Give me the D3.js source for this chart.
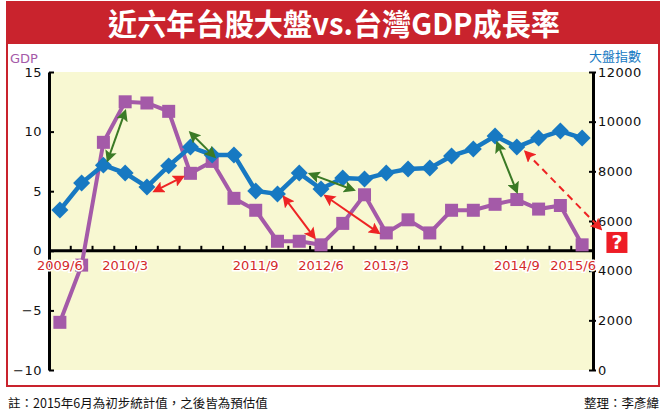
<!DOCTYPE html>
<html lang="zh-Hant">
<head>
<meta charset="UTF-8">
<title>近六年台股大盤vs.台灣GDP成長率</title>
<script src="https://d3js.org/d3.v7.min.js"></script>
<style>
    body { margin: 0; background: #fff; }
    svg text { font-family: "DejaVu Sans", sans-serif; }
    .cjk { font-family: "Noto Sans CJK TC", sans-serif; }
</style>
</head>
<body>
<div id="chart"></div>
<script>
// quarters on the x axis
const quarters = ["2009/6","2009/9","2009/12","2010/3","2010/6","2010/9","2010/12",
    "2011/3","2011/6","2011/9","2011/12","2012/3","2012/6","2012/9","2012/12",
    "2013/3","2013/6","2013/9","2013/12","2014/3","2014/6","2014/9","2014/12",
    "2015/3","2015/6"];
const xLabels = ["2009/6","2010/3","2011/9","2012/6","2013/3","2014/9","2015/6"];

// GDP growth rate (%), left axis
const gdp = [-6.0, -1.2, 9.1, 12.5, 12.4, 11.7, 6.5, 7.5, 4.4, 3.4, 0.8, 0.8, 0.5,
    2.3, 4.7, 1.5, 2.6, 1.5, 3.4, 3.4, 3.9, 4.3, 3.5, 3.8, 0.5];
// TAIEX index, right axis
const taiex = [6440, 7530, 8250, 7930, 7370, 8220, 8980, 8660, 8660, 7210, 7090,
    7930, 7290, 7730, 7690, 7930, 8090, 8130, 8620, 8900, 9420, 8980, 9340, 9620, 9340];

const gdpTicks = [-10, -5, 0, 5, 10, 15];
const taiexTicks = [0, 2000, 4000, 6000, 8000, 10000, 12000];

// annotation arrows: [quarter index, gdp value] start -> end
const greenArrows = [
    [[2.2, 7.6], [3.0, 11.7]],
    [[6.0, 9.9], [7.1, 7.9]],
    [[11.5, 6.45], [13.5, 5.1]],
    [[20.1, 9.05], [21.0, 4.95]]
];
const redArrows = [
    [[4.35, 5.0], [5.65, 6.2]],
    [[10.3, 4.5], [11.7, 1.1]],
    [[12.2, 4.6], [14.65, 1.5]]
];
const dashedArrows = [
    [[21.4, 8.3], [24.85, 1.85]]
];
const questionAt = [25.6, 0.7];

const W = 667, H = 414;
const plot = { left: 49, right: 593, top: 72, bottom: 370 };

const svg = d3.select("#chart").append("svg")
    .attr("width", W).attr("height", H);

const red = "#c9232d";
const purple = "#a45aa8";
const blue = "#1779c2";

// frame and title banner
svg.append("rect").attr("x", 7).attr("y", 2).attr("width", 652).attr("height", 384)
    .attr("fill", "#fff").attr("stroke", red).attr("stroke-width", 2);
svg.append("rect").attr("x", 6).attr("y", 1).attr("width", 654).attr("height", 43)
    .attr("fill", red);
svg.append("text").attr("class", "cjk")
    .attr("x", 334).attr("y", 35)
    .attr("text-anchor", "middle")
    .attr("font-size", 30).attr("font-weight", 700)
    .attr("fill", "#fff")
    .attr("textLength", 452).attr("lengthAdjust", "spacingAndGlyphs")
    .text("近六年台股大盤vs.台灣GDP成長率");

// scales
const x = d3.scaleBand().domain(quarters).range([plot.left, plot.right]);
const bw = x.bandwidth();
const xi = d3.scaleLinear().domain([0, quarters.length - 1])
    .range([x(quarters[0]) + bw / 2, x(quarters[quarters.length - 1]) + bw / 2]);
const yL = d3.scaleLinear().domain([-10, 15]).range([plot.bottom, plot.top]);
const yR = d3.scaleLinear().domain([0, 12000]).range([plot.bottom, plot.top]);

// plot background
svg.append("rect")
    .attr("x", plot.left).attr("y", plot.top)
    .attr("width", plot.right - plot.left).attr("height", plot.bottom - plot.top)
    .attr("fill", "#f8f8d2");

// axis titles
svg.append("text").attr("x", 10).attr("y", 63)
    .attr("font-size", 13).attr("fill", purple).text("GDP");
svg.append("text").attr("class", "cjk").attr("x", 641).attr("y", 61)
    .attr("text-anchor", "end").attr("font-size", 13).attr("fill", blue).text("大盤指數");

// left axis
const gL = svg.append("g").attr("transform", `translate(${plot.left},0)`)
    .call(d3.axisLeft(yL).tickValues(gdpTicks).tickSizeInner(-5).tickSizeOuter(0).tickPadding(7));
// right axis
const gR = svg.append("g").attr("transform", `translate(${plot.right},0)`)
    .call(d3.axisRight(yR).tickValues(taiexTicks).tickFormat(d3.format("d"))
        .tickSizeInner(3).tickSizeOuter(0).tickPadding(2));
[gL, gR].forEach(g => {
    g.select(".domain").attr("stroke", "#000").attr("stroke-width", 3);
    g.selectAll(".tick line").attr("stroke", "#000").attr("stroke-width", 2);
    g.selectAll(".tick text").attr("font-size", 13).attr("fill", "#111")
        .attr("font-family", "DejaVu Sans, sans-serif").attr("letter-spacing", "0.5px");
});
gR.selectAll(".tick line").attr("x1", -4);

// zero line with quarter ticks
svg.append("line")
    .attr("x1", plot.left).attr("x2", plot.right)
    .attr("y1", yL(0)).attr("y2", yL(0))
    .attr("stroke", "#000").attr("stroke-width", 3);
svg.append("g").selectAll("line")
    .data(quarters.slice(1))
    .enter().append("line")
    .attr("x1", d => x(d)).attr("x2", d => x(d))
    .attr("y1", yL(0)).attr("y2", yL(0) - 5)
    .attr("stroke", "#000").attr("stroke-width", 2);

// GDP line + squares
svg.append("path")
    .datum(gdp)
    .attr("fill", "none").attr("stroke", purple).attr("stroke-width", 4)
    .attr("d", d3.line().x((d, i) => xi(i)).y(d => yL(d)));
svg.append("g").selectAll("rect")
    .data(gdp)
    .enter().append("rect")
    .attr("x", (d, i) => xi(i) - 6.5).attr("y", d => yL(d) - 6.5)
    .attr("width", 13).attr("height", 13)
    .attr("fill", purple);

// x labels (on top of the purple line, like the original)
// last one is pulled in a little so it does not run into the 4000 label
const lastLabel = xLabels[xLabels.length - 1];
svg.append("g").selectAll("text")
    .data(xLabels)
    .enter().append("text")
    .attr("x", d => d === lastLabel ? plot.right + 3 : x(d) + bw / 2)
    .attr("y", yL(0) + 19)
    .attr("text-anchor", d => d === lastLabel ? "end" : "middle")
    .attr("font-size", 13)
    .attr("fill", "#d42a2a").attr("stroke", "#fff").attr("stroke-width", 3)
    .attr("paint-order", "stroke")
    .text(d => d);

// TAIEX line + diamonds
svg.append("path")
    .datum(taiex)
    .attr("fill", "none").attr("stroke", blue).attr("stroke-width", 4.5)
    .attr("d", d3.line().x((d, i) => xi(i)).y(d => yR(d)));
svg.append("g").selectAll("path")
    .data(taiex)
    .enter().append("path")
    .attr("transform", (d, i) => `translate(${xi(i)},${yR(d)}) rotate(45)`)
    .attr("d", "M-6,-6H6V6H-6Z")
    .attr("fill", blue);

// arrow markers
const defs = svg.append("defs");
function marker(id, color) {
    defs.append("marker").attr("id", id)
        .attr("viewBox", "0 0 10 10").attr("refX", 8).attr("refY", 5)
        .attr("markerWidth", 6).attr("markerHeight", 6)
        .attr("markerUnits", "strokeWidth")
        .attr("orient", "auto-start-reverse")
        .append("path").attr("d", "M0,0L10,5L0,10L2,5Z").attr("fill", color);
}
marker("ag", "#3b7a26");
marker("ar", "#ee2424");

function drawArrows(list, color, id, dash) {
    svg.append("g").selectAll("line")
        .data(list)
        .enter().append("line")
        .attr("x1", d => xi(d[0][0])).attr("y1", d => yL(d[0][1]))
        .attr("x2", d => xi(d[1][0])).attr("y2", d => yL(d[1][1]))
        .attr("stroke", color).attr("stroke-width", 2)
        .attr("stroke-dasharray", dash)
        .attr("marker-start", `url(#${id})`)
        .attr("marker-end", `url(#${id})`);
}
drawArrows(greenArrows, "#3b7a26", "ag", null);
drawArrows(redArrows, "#ee2424", "ar", null);
drawArrows(dashedArrows, "#ee2424", "ar", "7,5");

// question mark box
const q = svg.append("g")
    .attr("transform", `translate(${xi(questionAt[0])},${yL(questionAt[1])})`);
q.append("rect").attr("x", -10.5).attr("y", -10.5).attr("width", 21).attr("height", 21)
    .attr("fill", "#ee1c25");
q.append("text").attr("y", 7).attr("text-anchor", "middle")
    .attr("font-size", 19).attr("font-weight", 700).attr("fill", "#fff").text("?");

// footer
svg.append("text").attr("class", "cjk").attr("x", 8).attr("y", 408)
    .attr("font-size", 12.5).attr("fill", "#111")
    .text("註：2015年6月為初步統計值，之後皆為預估值");
svg.append("text").attr("class", "cjk").attr("x", 659).attr("y", 408)
    .attr("text-anchor", "end").attr("font-size", 12.5).attr("fill", "#111")
    .text("整理：李彥緯");
</script>
</body>
</html>
